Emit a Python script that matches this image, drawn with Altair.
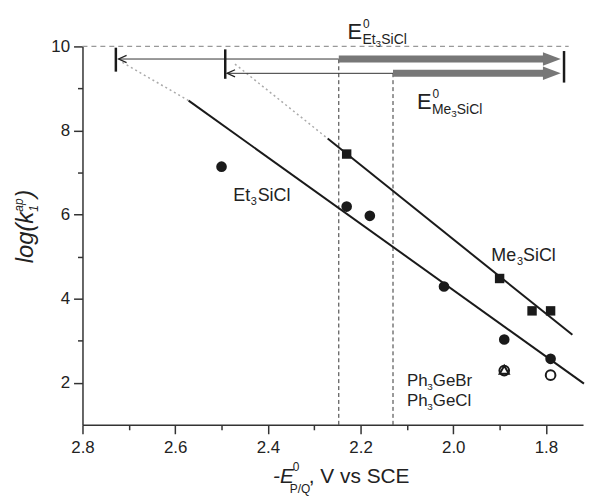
import altair as alt
import pandas as pd

FONT = "Liberation Sans, Arial, Helvetica, sans-serif"
INK = "#1a1a1a"

# ---------------- data ----------------
# Et3SiCl series (filled circles)
et_x = [2.50, 2.23, 2.18, 2.02, 1.89, 1.79]
et_y = [7.14, 6.19, 5.97, 4.29, 3.03, 2.57]
# Me3SiCl series (filled squares)
me_x = [2.23, 1.90, 1.83, 1.79]
me_y = [7.44, 4.48, 3.71, 3.71]
# Ph3GeBr / Ph3GeCl (open symbols)
ge_circle_x = [1.89, 1.79]
ge_circle_y = [2.29, 2.18]
ge_tri_x = [1.89]
ge_tri_y = [2.31]

# fitted lines (solid) and their dotted extrapolations
et_fit_x = [2.571, 1.718]
et_fit_y = [8.71, 1.98]
me_fit_x = [2.271, 1.743]
me_fit_y = [7.81, 3.14]
et_ext_x = [2.714, 2.571]
et_ext_y = [9.62, 8.71]
me_ext_x = [2.471, 2.271]
me_ext_y = [9.58, 7.81]

# E0 values (vertical dashed lines) and the arrows at the top
e0_x = [2.247, 2.13]          # Et3SiCl, Me3SiCl
arrow_y = [9.70, 9.36]
arrow_tip_x = [2.722, 2.488]
thick_end_x = [1.805, 1.805]
thick_tip_x = [1.768, 1.768]
cap_x = [2.728, 2.492, 1.761]
cap_y1 = [9.40, 9.23, 9.14]
cap_y2 = [9.97, 9.93, 9.89]
top_line_x = [2.80, 1.751]
top_line_y = [10.0]

x_ticks = [2.8, 2.7, 2.6, 2.5, 2.4, 2.3, 2.2, 2.1, 2.0, 1.9, 1.8]
y_ticks = [2, 3, 4, 5, 6, 7, 8, 9, 10]

# ---------------- scales / axes ----------------
xs = alt.Scale(domain=[2.8, 1.72], nice=False, zero=False)
ys = alt.Scale(domain=[1, 10], nice=False, zero=False)

axis_common = dict(
    title=None, grid=False, labelFont=FONT, labelFontSize=17, labelColor="#222",
    domainColor="#333", domainWidth=1.5, tickColor="#333", tickWidth=1.5,
    labelOverlap=False, labelFlush=False,
)
xaxis = alt.Axis(
    values=x_ticks,
    labelExpr="round(datum.value * 10) % 2 == 0 ? format(datum.value, '.1f') : ''",
    tickSize={"condition": {"test": "round(datum.value * 10) % 2 == 0", "value": 9}, "value": 5},
    labelPadding=6,
    **axis_common,
)
yaxis = alt.Axis(
    values=y_ticks,
    labelExpr="datum.value % 2 == 0 ? datum.label : ''",
    tickSize={"condition": {"test": "datum.value % 2 == 0", "value": 9}, "value": 5},
    labelPadding=4,
    **axis_common,
)


def X(f="x"):
    return alt.X(f"{f}:Q", scale=xs, axis=xaxis)


def Y(f="y"):
    return alt.Y(f"{f}:Q", scale=ys, axis=yaxis)


layers = []

# top dashed line at log k = 10
layers.append(
    alt.Chart(pd.DataFrame({"x": [top_line_x[0]], "x2": [top_line_x[1]], "y": top_line_y}))
    .mark_rule(color="#999", strokeDash=[5, 4], strokeWidth=1.2)
    .encode(x=X(), x2="x2:Q", y=Y())
)

# vertical dashed E0 lines
layers.append(
    alt.Chart(pd.DataFrame({"x": e0_x, "y": [1, 1], "y2": arrow_y}))
    .mark_rule(color="#333", strokeDash=[4, 3], strokeWidth=1)
    .encode(x=X(), y=Y(), y2="y2:Q")
)

# dotted extrapolations
for ex, ey in [(et_ext_x, et_ext_y), (me_ext_x, me_ext_y)]:
    layers.append(
        alt.Chart(pd.DataFrame({"x": ex, "y": ey}))
        .mark_line(color="#aaa", strokeDash=[2, 3], strokeWidth=1.5)
        .encode(x=X(), y=Y())
    )

# fitted lines
for fx, fy in [(et_fit_x, et_fit_y), (me_fit_x, me_fit_y)]:
    layers.append(
        alt.Chart(pd.DataFrame({"x": fx, "y": fy}))
        .mark_line(color=INK, strokeWidth=2)
        .encode(x=X(), y=Y())
    )

# thin arrows to the left
layers.append(
    alt.Chart(pd.DataFrame({"x": e0_x, "x2": arrow_tip_x, "y": arrow_y}))
    .mark_rule(color="#333", strokeWidth=1)
    .encode(x=X(), x2="x2:Q", y=Y())
)
layers.append(
    alt.Chart(pd.DataFrame({"x": arrow_tip_x, "y": arrow_y}))
    .mark_point(shape="M 2 -0.9 L 0 0 L 2 0.9", size=64, filled=False,
                strokeWidth=1.3, color="#222", opacity=1)
    .encode(x=X(), y=Y())
)

# thick grey arrows to the right
layers.append(
    alt.Chart(pd.DataFrame({"x": e0_x, "x2": thick_end_x, "y": arrow_y}))
    .mark_rule(color="#777", strokeWidth=7, strokeCap="butt")
    .encode(x=X(), x2="x2:Q", y=Y())
)
layers.append(
    alt.Chart(pd.DataFrame({"x": thick_tip_x, "y": arrow_y}))
    .mark_point(shape="M -2 -0.75 L 0 0 L -2 0.75 Z", size=324, filled=True,
                color="#777", opacity=1, strokeWidth=0)
    .encode(x=X(), y=Y())
)

# end caps
layers.append(
    alt.Chart(pd.DataFrame({"x": cap_x, "y": cap_y1, "y2": cap_y2}))
    .mark_rule(color=INK, strokeWidth=2.5)
    .encode(x=X(), y=Y(), y2="y2:Q")
)

# data points
layers.append(
    alt.Chart(pd.DataFrame({"x": et_x, "y": et_y}))
    .mark_circle(size=115, color=INK, opacity=1)
    .encode(x=X(), y=Y())
)
layers.append(
    alt.Chart(pd.DataFrame({"x": me_x, "y": me_y}))
    .mark_square(size=90, color=INK, opacity=1)
    .encode(x=X(), y=Y())
)
layers.append(
    alt.Chart(pd.DataFrame({"x": ge_circle_x, "y": ge_circle_y}))
    .mark_point(shape="circle", size=95, filled=False, strokeWidth=2, color=INK, opacity=1)
    .encode(x=X(), y=Y())
)
layers.append(
    alt.Chart(pd.DataFrame({"x": ge_tri_x, "y": ge_tri_y}))
    .mark_point(shape="triangle-up", size=85, filled=False, strokeWidth=2, color=INK, opacity=1)
    .encode(x=X(), y=Y())
)


# ---------------- rich text labels (sub/superscripts) ----------------
def rich(x, y, pieces, angle=0):
    out = []
    for txt, size, dx, dy, style in pieces:
        d = pd.DataFrame({"x": [x], "y": [y], "t": [txt]})
        out.append(
            alt.Chart(d)
            .mark_text(align="left", baseline="alphabetic", font=FONT, fontSize=size,
                       fontStyle=style, dx=dx, dy=dy, angle=angle, color="#222")
            .encode(x=X(), y=Y(), text="t:N")
        )
    return out


N, I = "normal", "italic"
# E0 Et3SiCl
layers += rich(2.228, 10.18, [("E", 22, 0, 0, N), ("0", 12, 15.5, -11, N),
                              ("Et", 14, 15, 5, N), ("3", 10, 28.2, 8, N), ("SiCl", 14, 34, 5, N)])
# E0 Me3SiCl
layers += rich(2.078, 8.52, [("E", 22, 0, 0, N), ("0", 12, 15.5, -11, N),
                             ("Me", 14, 15, 5, N), ("3", 10, 34.4, 8, N), ("SiCl", 14, 40, 5, N)])
# series labels
layers += rich(2.4745, 6.33, [("Et", 18, 0, 0, N), ("3", 11, 17.5, 4, N), ("SiCl", 18, 24.5, 0, N)])
layers += rich(1.918, 4.886, [("Me", 18, 0, 0, N), ("3", 11, 26, 4, N), ("SiCl", 18, 32, 0, N)])
layers += rich(2.0998, 1.93, [("Ph", 17, 0, 0, N), ("3", 10, 20.5, 4, N), ("GeBr", 17, 26, 0, N)])
layers += rich(2.0998, 1.45, [("Ph", 17, 0, 0, N), ("3", 10, 20.5, 4, N), ("GeCl", 17, 26, 0, N)])
# x axis title
layers += rich(2.389, -0.383, [("-E", 21, 0, 0, I), ("0", 12, 20, -12, N),
                               ("P/Q", 12, 17, 10, N), (", V vs SCE", 21, 36, 0, N)])
# y axis title (rotated)
layers += rich(2.907, 4.84, [("log(k", 24, 0, 0, I), ("1", 12, 52, 5, I),
                             ("ap", 12, 52, -10, I), (")", 24, 66, 0, I)], angle=270)

chart = (
    alt.layer(*layers)
    .properties(width=504, height=381,
                autosize=alt.AutoSizeParams(type="none"),
                padding={"left": 75, "top": 37, "right": 5, "bottom": 70})
    .configure_view(stroke=None)
)

chart.save("out.html", embed_options={"renderer": "svg", "actions": False})
